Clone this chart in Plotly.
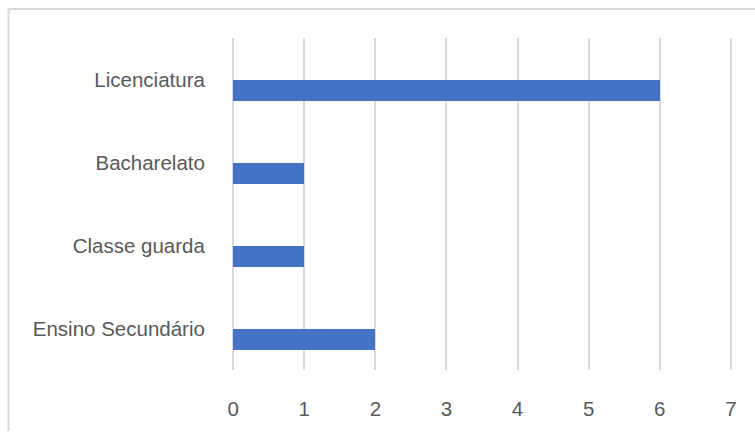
import plotly.graph_objects as go

# Categories listed bottom-to-top, as they appear on the axis
categories = ["Ensino Secundário", "Classe guarda", "Bacharelato", "Licenciatura"]
counts = [2, 1, 1, 6]
x_ticks = [0, 1, 2, 3, 4, 5, 6, 7]

W, H = 755, 432
ML, MR, MT, MB = 231, 22, 38, 57
PAD_X = 0.03  # small range padding so the 0 and 7 gridlines are drawn

TEXT = "#595959"
GRID = "#d9d9d9"
BAR = "#4472C4"
FONT = "Liberation Sans, Arial, sans-serif"
FS = 20.5

fig = go.Figure()
fig.add_trace(go.Bar(
    y=categories,
    x=counts,
    orientation="h",
    marker=dict(color=BAR, line=dict(width=0)),
    width=0.262,
    offset=-0.262,
    hoverinfo="x+y",
))

pw = W - ML - MR
ph = H - MT - MB
# light frame around the chart area
bx0 = (8.5 - ML) / pw
by1 = (H - 8.5 - MB) / ph
fig.add_shape(type="line", xref="paper", yref="paper",
              x0=bx0, x1=(W + 5 - ML) / pw, y0=by1, y1=by1,
              line=dict(color=GRID, width=2), layer="below")
fig.add_shape(type="line", xref="paper", yref="paper",
              x0=bx0, x1=bx0, y0=(-MB - 5) / ph, y1=by1,
              line=dict(color=GRID, width=2), layer="below")

fig.update_layout(
    width=W, height=H,
    margin=dict(l=ML, r=MR, t=MT, b=MB, pad=0),
    paper_bgcolor="white",
    plot_bgcolor="white",
    showlegend=False,
    font=dict(family=FONT, color=TEXT, size=FS),
    bargap=0,
)
fig.update_xaxes(
    range=[-PAD_X, 7 + PAD_X],
    tickvals=x_ticks,
    ticktext=[str(v) for v in x_ticks],
    showgrid=True, gridcolor=GRID, gridwidth=1.6,
    zeroline=False, showline=False,
    ticks="outside", ticklen=20, tickcolor="rgba(0,0,0,0)",
    tickfont=dict(size=FS, color=TEXT),
    fixedrange=True,
)
fig.update_yaxes(
    categoryorder="array", categoryarray=categories,
    range=[-0.5, 3.5],
    showgrid=False, zeroline=False, showline=False,
    ticks="outside", ticklen=21, tickcolor="rgba(0,0,0,0)",
    tickfont=dict(size=FS, color=TEXT),
    fixedrange=True,
)

fig.write_html("out.html")
